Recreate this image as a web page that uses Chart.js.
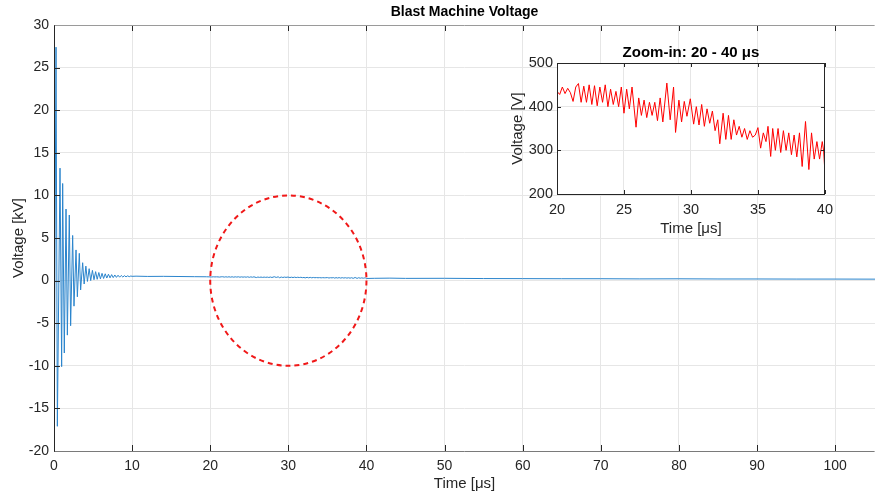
<!DOCTYPE html>
<html>
<head>
<meta charset="utf-8">
<title>Blast Machine Voltage</title>
<script src="https://cdn.jsdelivr.net/npm/chart.js@4.4.1/dist/chart.umd.min.js"></script>
<style>
  body { margin: 0; background: #fff; }
  #wrap { position: relative; width: 875px; height: 495px; overflow: hidden; }
  #main { position: absolute; left: 0; top: 0; }
  #inset { position: absolute; left: 495px; top: 35px; }
</style>
</head>
<body>
<div id="wrap">
  <canvas id="main" width="875" height="495"></canvas>
  <canvas id="inset" width="345" height="210"></canvas>
</div>
<script>
  // ring-down at the start (time in us, voltage in kV), turning points
  const earlyTime = [0, 0.05, 0.26, 0.43, 0.77, 0.98, 1.11, 1.32, 1.54, 1.71,
    1.96, 2.13, 2.39, 2.56, 2.82, 2.99, 3.24, 3.41, 3.67, 3.86,
    4.08, 4.28, 4.50, 4.70, 4.92, 5.12, 5.33, 5.53, 5.74, 5.94,
    6.15, 6.35, 6.56, 6.76, 6.97, 7.17, 7.38, 7.58, 7.79, 7.99,
    8.20, 8.40, 8.61, 8.81, 9.02, 9.22, 9.43, 9.63, 9.84, 10.0];
  const earlyKv = [7.5, -11, 27.4, -17.1, 13.2, -10.1, 11.4, -8.5, 8.4, -6.4,
    7.7, -5.3, 5.3, -3.0, 3.6, -1.9, 3.2, -1.1, 2.1, -0.4,
    1.7, -0.1, 1.4, 0.0, 1.2, 0.1, 1.05, 0.15, 0.95, 0.2,
    0.85, 0.25, 0.8, 0.3, 0.75, 0.32, 0.7, 0.35, 0.66, 0.38,
    0.63, 0.4, 0.6, 0.42, 0.58, 0.44, 0.56, 0.46, 0.54, 0.5];

  const midTime = [10.5, 12, 14, 16, 18, 19.5];
  const midKv = [0.52, 0.49, 0.50, 0.48, 0.46, 0.45];

  // 20 - 40 us window shown in the inset (voltage in V)
  const insetTime = [20.0, 20.2, 20.4, 20.6, 20.8, 21.0, 21.2, 21.4, 21.6, 21.8,
    22.0, 22.2, 22.4, 22.6, 22.8, 23.0, 23.2, 23.4, 23.6, 23.8,
    24.0, 24.2, 24.4, 24.6, 24.8, 25.0, 25.2, 25.4, 25.6, 25.9,
    26.1, 26.3, 26.5, 26.7, 26.9, 27.1, 27.3, 27.5, 27.7, 27.9,
    28.2, 28.45, 28.7, 28.85, 29.1, 29.3, 29.5, 29.7, 29.95, 30.2,
    30.4, 30.6, 30.8, 31.0, 31.2, 31.4, 31.6, 31.8, 32.0, 32.15,
    32.4, 32.6, 32.8, 33.0, 33.2, 33.4, 33.6, 33.8, 34.0, 34.2,
    34.4, 34.6, 34.8, 35.0, 35.2, 35.4, 35.6, 35.75, 35.95, 36.1,
    36.3, 36.5, 36.7, 36.9, 37.1, 37.3, 37.5, 37.7, 37.9, 38.1,
    38.3, 38.55, 38.8, 39.0, 39.2, 39.4, 39.6, 39.8, 39.9, 40.0];
  const insetVolt = [435, 428, 445, 430, 442, 432, 412, 445, 453, 410,
    447, 410, 450, 405, 448, 402, 445, 410, 450, 400,
    440, 405, 435, 400, 445, 385, 440, 395, 445, 353,
    420, 380, 415, 375, 410, 380, 410, 368, 420, 365,
    454, 370, 445, 341, 415, 365, 412, 378, 418, 360,
    400, 358, 405, 355, 395, 362, 390, 345, 370, 315,
    385, 325, 380, 325, 370, 335, 355, 330, 350, 325,
    345, 330, 335, 352, 305, 340, 320, 355, 286, 350,
    300, 350, 295, 345, 300, 340, 290, 335, 285, 340,
    263, 366, 256, 340, 280, 320, 280, 320, 300, 250];

  const lateTime = [41, 43, 45, 50, 55, 60, 65, 70, 75, 80, 85, 90, 95, 100, 105.1];
  const lateKv = [0.27, 0.29, 0.26, 0.27, 0.24, 0.23, 0.22, 0.22, 0.20, 0.21, 0.19, 0.19, 0.18, 0.18, 0.17];

  // dashed ring marking the zoomed window (centre and radii in axis units)
  const ringCentre = [30, 0];
  const ringRadius = [10, 10];

  const mainTitle = "Blast Machine Voltage";
  const insetTitle = "Zoom-in: 20 - 40 \u03bcs";

  (function() {
    "use strict";

    const FONT = "'Liberation Sans', Arial, Helvetica, sans-serif";
    const TEXT = "#262626";
    const GRID = "#e6e6e6";

    function pairs(xs, ys, scale) {
      return xs.map((x, i) => ({x: x, y: ys[i] * scale}));
    }

    /**
     * Draws the box lines and the inward tick marks, MATLAB style.
     */
    function framePlugin(sides, tickLen) {
      return {
        id: "frame",
        afterDatasetsDraw(chart) {
          let ctx = chart.ctx;
          let a = chart.chartArea;
          let xs = chart.scales.x;
          let ys = chart.scales.y;
          ctx.save();
          ctx.lineWidth = 1;
          const line = (x1, y1, x2, y2, col) => {
            ctx.strokeStyle = col;
            ctx.beginPath();
            ctx.moveTo(x1, y1);
            ctx.lineTo(x2, y2);
            ctx.stroke();
          };
          xs.ticks.forEach(t => {
            let px = Math.round(xs.getPixelForValue(t.value)) + 0.5;
            if (sides.bottom) line(px, a.bottom, px, a.bottom - tickLen, TEXT);
            if (sides.top) line(px, a.top, px, a.top + tickLen, TEXT);
          });
          ys.ticks.forEach(t => {
            let py = Math.round(ys.getPixelForValue(t.value)) + 0.5;
            if (sides.left) line(a.left, py, a.left + tickLen, py, TEXT);
            if (sides.right) line(a.right, py, a.right - tickLen, py, TEXT);
          });
          let l = Math.round(a.left) + 0.5, r = Math.round(a.right) - 0.5;
          let tp = Math.round(a.top) + 0.5, b = Math.round(a.bottom) + 0.5;
          if (sides.top) line(l, tp, r, tp, sides.top);
          if (sides.right) line(r, tp, r, b, sides.right);
          if (sides.bottom) line(l, b, r, b, sides.bottom);
          if (sides.left) line(l, tp, l, b, sides.left);
          ctx.restore();
        }
      };
    }

    function titlePlugin(text, y, size) {
      return {
        id: "topTitle",
        afterDraw(chart) {
          let ctx = chart.ctx;
          let a = chart.chartArea;
          ctx.save();
          ctx.font = "bold " + size + "px " + FONT;
          ctx.fillStyle = "#000";
          ctx.textAlign = "center";
          ctx.textBaseline = "middle";
          ctx.fillText(text, (a.left + a.right) / 2, y);
          ctx.restore();
        }
      };
    }

    const ringPlugin = {
      id: "ring",
      afterDatasetsDraw(chart) {
        let ctx = chart.ctx;
        let xs = chart.scales.x;
        let ys = chart.scales.y;
        let cx = xs.getPixelForValue(ringCentre[0]);
        let cy = ys.getPixelForValue(ringCentre[1]);
        let rx = xs.getPixelForValue(ringCentre[0] + ringRadius[0]) - cx;
        let ry = cy - ys.getPixelForValue(ringCentre[1] + ringRadius[1]);
        ctx.save();
        ctx.strokeStyle = "#f01818";
        ctx.lineWidth = 2;
        ctx.setLineDash([5, 4]);
        ctx.beginPath();
        ctx.ellipse(cx, cy, rx, ry, 0, 0, Math.PI * 2);
        ctx.stroke();
        ctx.restore();
      }
    };

    const whiteArea = {
      id: "whiteArea",
      beforeDraw(chart) {
        let a = chart.chartArea;
        chart.ctx.save();
        chart.ctx.fillStyle = "#fff";
        chart.ctx.fillRect(a.left, a.top, a.right - a.left, a.bottom - a.top);
        chart.ctx.restore();
      }
    };

    function axis(opts) {
      return {
        type: "linear",
        min: opts.min,
        max: opts.max,
        afterFit: s => {
          if (s.isHorizontal()) s.height = opts.size;
          else s.width = opts.size;
        },
        border: {display: false},
        grid: {color: GRID, drawTicks: false, lineWidth: 1},
        ticks: {
          stepSize: opts.step,
          includeBounds: false,
          autoSkip: false,
          maxRotation: 0,
          padding: opts.pad,
          color: TEXT,
          font: {family: FONT, size: opts.font}
        },
        title: {
          display: true,
          text: opts.title,
          color: TEXT,
          padding: opts.titlePad,
          font: {family: FONT, size: opts.titleFont}
        }
      };
    }

    function drawMain() {
      let points = pairs(earlyTime, earlyKv, 1)
        .concat(pairs(midTime, midKv, 1))
        .concat(pairs(insetTime, insetVolt, 0.001))
        .concat(pairs(lateTime, lateKv, 1));
      new Chart(document.getElementById("main"), {
        type: "line",
        data: {
          datasets: [{
            data: points,
            borderColor: "#2a84cc",
            borderWidth: 1,
            pointRadius: 0,
            tension: 0,
            fill: false
          }]
        },
        options: {
          responsive: false,
          animation: false,
          devicePixelRatio: 1,
          layout: {autoPadding: false, padding: {top: 25, left: 0, right: 0, bottom: 0}},
          plugins: {legend: {display: false}, tooltip: {enabled: false}},
          scales: {
            x: axis({min: 0, max: 105.1, step: 10, size: 44, pad: 7, font: 14,
              title: "Time [\u03bcs]", titleFont: 15, titlePad: {top: 0, bottom: 2}}),
            y: axis({min: -20, max: 30, step: 5, size: 54, pad: 5, font: 14,
              title: "Voltage [kV]", titleFont: 15, titlePad: {top: 10, bottom: 0}})
          }
        },
        plugins: [framePlugin({top: "#9a9a9a", bottom: "#7a7a7a", left: "#262626"}, 6),
          ringPlugin, titlePlugin(mainTitle, 12, 14)]
      });
    }

    function drawInset() {
      new Chart(document.getElementById("inset"), {
        type: "line",
        data: {
          datasets: [{
            data: pairs(insetTime, insetVolt, 1),
            borderColor: "#ff0000",
            borderWidth: 1,
            pointRadius: 0,
            tension: 0,
            fill: false
          }]
        },
        options: {
          responsive: false,
          animation: false,
          devicePixelRatio: 1,
          layout: {autoPadding: false, padding: {top: 28, left: 0, right: 11, bottom: 0}},
          plugins: {legend: {display: false}, tooltip: {enabled: false}},
          scales: {
            x: axis({min: 20, max: 40, step: 5, size: 51, pad: 7, font: 14.5,
              title: "Time [\u03bcs]", titleFont: 15, titlePad: {top: 0, bottom: 7}}),
            y: axis({min: 200, max: 500, step: 100, size: 62, pad: 4, font: 14.5,
              title: "Voltage [V]", titleFont: 15, titlePad: {top: 14, bottom: 0}})
          }
        },
        plugins: [whiteArea,
          framePlugin({top: "#262626", bottom: "#262626", left: "#262626", right: "#262626"}, 4),
          titlePlugin(insetTitle, 18, 15)]
      });
    }

    drawMain();
    drawInset();
  })();
</script>
</body>
</html>
